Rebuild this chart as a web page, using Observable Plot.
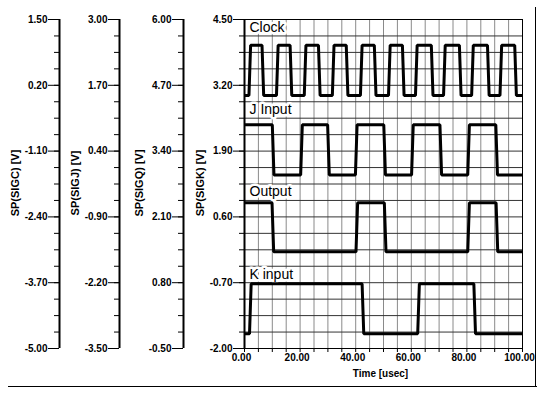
<!DOCTYPE html>
<html><head><meta charset="utf-8">
<script src="https://cdn.jsdelivr.net/npm/d3@7"></script>
<script src="https://cdn.jsdelivr.net/npm/@observablehq/plot@0.6"></script>
<style>
body{margin:0;background:#fff}
#wrap{position:relative;width:544px;height:396px;overflow:hidden;background:#fff}
#wrap > figure, #wrap > svg{position:absolute;top:0;margin:0}
.hline{position:absolute;background:#000}
</style></head><body>
<div id="wrap"></div>
<script>
// ---- data ----
const timeTicks = [0, 20, 40, 60, 80, 100];
const timeMinorTicks = [0,5,10,15,20,25,30,35,40,45,50,55,60,65,70,75,80,85,90,95,100];
const sigcTicks = [1.5, 0.2, -1.1, -2.4, -3.7, -5.0];
const sigjTicks = [3.0, 1.7, 0.4, -0.9, -2.2, -3.5];
const sigqTicks = [6.0, 4.7, 3.4, 2.1, 0.8, -0.5];
const sigkTicks = [4.5, 3.2, 1.9, 0.6, -0.7, -2.0];
const axisTitles = ["SP(SIGC) [V]", "SP(SIGJ) [V]", "SP(SIGQ) [V]", "SP(SIGK) [V]"];
const stripNames = ["Clock", "J Input", "Output", "K input"];
const xTitle = "Time [usec]";

// levels [low, high] on the SP(SIGK) axis, start state, toggle times (usec)
const clockLevels = [3.0, 3.99];
const clockStart = 0;
const clockToggles = [1.6, 6.3, 11.5, 16.4, 21.5, 26.6, 31.6, 36.6, 41.7, 46.7, 51.8, 56.8, 61.5, 67.2, 71.6, 77.3, 81.7, 87.4, 91.9, 97.2];
const jLevels = [1.43, 2.42];
const jStart = 1;
const jToggles = [10.0, 20.2, 29.9, 39.9, 50.1, 60.1, 70.3, 80.3, 90.4];
const outLevels = [-0.09, 0.88];
const outStart = 1;
const outToggles = [9.9, 40.1, 50.3, 80.3, 90.5];
const kLevels = [-1.71, -0.72];
const kStart = 0;
const kToggles = [1.8, 42.3, 62.3, 82.5];

// ---- helpers ----
const fmt = v => (Math.abs(v) < 1e-9 ? 0 : v).toFixed(2);
const FONT = "'Liberation Sans', Arial, Helvetica, sans-serif";
const H = 396, MT = 19, MB = 48;
const riseTime = 0.6;
function wave(name, levels, start, toggles) {
  let s = start;
  const pts = [{name, t: timeTicks[0], v: levels[s]}];
  for (const e of toggles) {
    pts.push({name, t: e, v: levels[s]});
    s = 1 - s;
    pts.push({name, t: e + riseTime, v: levels[s]});
  }
  pts.push({name, t: timeTicks[timeTicks.length - 1], v: levels[s]});
  return pts;
}
function minorOf(ticks) {
  const hi = d3.max(ticks), lo = d3.min(ticks), step = (hi - lo) / 20;
  return d3.range(21).map(k => hi - k * step);
}
const wrap = document.getElementById("wrap");
function place(el, left) { el.style.left = left + "px"; wrap.appendChild(el); }

function leftAxis(ticks, title, width, axisLocal) {
  return Plot.plot({
    width, height: H, marginTop: MT, marginBottom: MB,
    marginLeft: axisLocal, marginRight: width - axisLocal - 1,
    x: {domain: [0, 1], axis: null},
    y: {domain: d3.extent(ticks), axis: null},
    style: {fontFamily: FONT, fontSize: "10px", fontWeight: "bold", background: "transparent", color: "#000", overflow: "visible"},
    marks: [
      Plot.axisY(minorOf(ticks), {tickSize: 5, tickFormat: () => "", label: null}),
      Plot.axisY(ticks, {tickSize: 11, tickPadding: 1, tickFormat: fmt, label: null}),
      Plot.ruleX([0], {strokeWidth: 2, stroke: "#000"}),
      Plot.text([title], {frameAnchor: "left", rotate: -90, dx: -44, dy: -1, textAnchor: "middle", lineAnchor: "middle", fontSize: 11, fontWeight: "bold", fill: "#000"})
    ]
  });
}

place(leftAxis(sigcTicks, axisTitles[0], 61, 59), 0);
place(leftAxis(sigjTicks, axisTitles[1], 60, 58), 61);
place(leftAxis(sigqTicks, axisTitles[2], 63, 62), 121);

const yDomain = d3.extent(sigkTicks);
const xDomain = d3.extent(timeTicks);
const stripSpan = (yDomain[1] - yDomain[0]) / stripNames.length;
const gridY = minorOf(sigkTicks);
const waves = [
  ...wave("Clock", clockLevels, clockStart, clockToggles),
  ...wave("J Input", jLevels, jStart, jToggles),
  ...wave("Output", outLevels, outStart, outToggles),
  ...wave("K input", kLevels, kStart, kToggles)
];

const main = Plot.plot({
  width: 360, height: H, marginTop: MT, marginBottom: MB, marginLeft: 60, marginRight: 22,
  x: {domain: xDomain},
  y: {domain: yDomain},
  style: {fontFamily: FONT, fontSize: "10px", fontWeight: "bold", background: "transparent", color: "#000", overflow: "visible"},
  marks: [
    Plot.ruleX(timeMinorTicks, {stroke: "#8a8a8a", strokeWidth: 1}),
    Plot.ruleY(gridY, {stroke: "#333", strokeWidth: 1}),
    Plot.text(stripNames, {
      x: () => xDomain[0],
      y: (d, i) => yDomain[1] - i * stripSpan,
      text: d => d, dx: 5, dy: 8, lineAnchor: "middle", textAnchor: "start",
      fontSize: 14, fontWeight: "normal", fill: "#000", stroke: "#fff", strokeWidth: 5
    }),
    Plot.line(waves, {x: "t", y: "v", z: "name", stroke: "#000", strokeWidth: 3, strokeLinejoin: "miter", strokeLinecap: "butt"}),
    Plot.frame({stroke: "#000"}),
    Plot.ruleX([xDomain[0]], {stroke: "#000", strokeWidth: 2}),
    Plot.axisY(gridY, {tickSize: 5, tickFormat: () => "", label: null}),
    Plot.axisY(sigkTicks, {tickSize: 11, tickPadding: 1, tickFormat: fmt, label: null}),
    Plot.axisX(timeMinorTicks, {tickSize: 4, tickFormat: () => "", label: null}),
    Plot.axisX(timeTicks, {tickSize: 0, tickPadding: 5, dx: -3, tickFormat: fmt, label: null}),
    Plot.text([axisTitles[3]], {frameAnchor: "left", rotate: -90, dx: -44, dy: -1, textAnchor: "middle", lineAnchor: "middle", fontSize: 11, fontWeight: "bold", fill: "#000"}),
    Plot.text([xTitle], {frameAnchor: "bottom", dx: -3, dy: 25, textAnchor: "middle", lineAnchor: "middle", fontSize: 10, fontWeight: "bold", fill: "#000"})
  ]
});
place(main, 184);

// outer border lines (bottom and right)
const b1 = document.createElement("div"); b1.className = "hline";
b1.style.cssText += "left:8px;top:386px;width:529px;height:1px;";
wrap.appendChild(b1);
const b2 = document.createElement("div"); b2.className = "hline";
b2.style.cssText += "left:535px;top:7px;width:1px;height:380px;";
wrap.appendChild(b2);
</script>
</body></html>
